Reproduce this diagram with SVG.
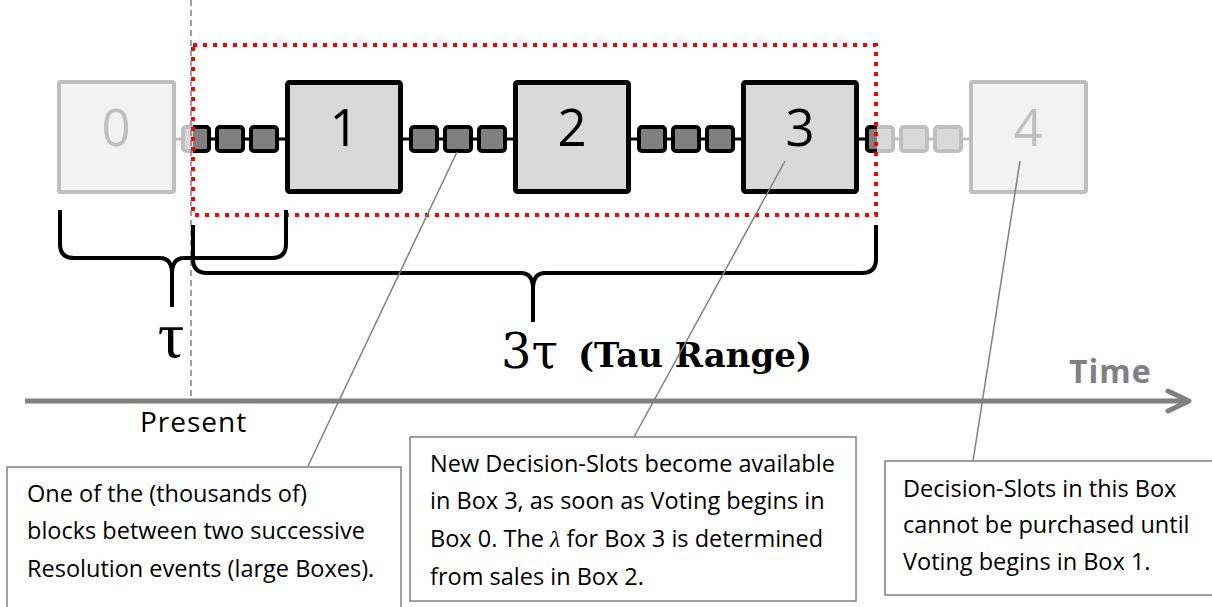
<svg xmlns="http://www.w3.org/2000/svg" xmlns:xlink="http://www.w3.org/1999/xlink" width="1212" height="607" viewBox="0 0 1212 607">
<style>
.big-dark{fill:#d9d9d9;stroke:#000;stroke-width:5}
.big-light{fill:#f2f2f2;stroke:#bfbfbf;stroke-width:4}
.num{font-family:"Open Sans","Noto Sans",sans-serif;font-size:51px;text-anchor:middle}
.seg-dark{fill:#808080;stroke:#000}
.seg-light{fill:#d9d9d9;stroke:#bfbfbf}
.leader{stroke:#808080;stroke-width:1.5;fill:none}
.callout{fill:#fff;stroke:#808080;stroke-width:1.5}
.ctext{font-family:"Open Sans","Noto Sans",sans-serif;font-size:23.5px;fill:#000}
.brace{fill:none;stroke:#000;stroke-width:4;stroke-linejoin:round}
</style>
<defs>
<g id="seg">
<line x1="118" y1="139" x2="228" y2="139" stroke-width="3"/>
<rect x="126" y="127" width="26" height="24" rx="3" stroke-width="4"/>
<rect x="160" y="127" width="26" height="24" rx="3" stroke-width="4"/>
<rect x="194" y="127" width="26" height="24" rx="3" stroke-width="4"/>
</g>
<clipPath id="inRange" clipPathUnits="userSpaceOnUse"><rect x="193" y="0" width="684" height="607"/></clipPath>
</defs>

<g id="connectors">
<use xlink:href="#seg" href="#seg" x="57" class="seg-light"/>
<g clip-path="url(#inRange)"><use xlink:href="#seg" href="#seg" x="57" class="seg-dark"/></g>
<use xlink:href="#seg" href="#seg" x="285" class="seg-dark"/>
<use xlink:href="#seg" href="#seg" x="513" class="seg-dark"/>
<use xlink:href="#seg" href="#seg" x="741" class="seg-light"/>
<g clip-path="url(#inRange)"><use xlink:href="#seg" href="#seg" x="741" class="seg-dark"/></g>
</g>

<g id="box0"><rect class="big-light" x="59" y="82" width="115" height="110" rx="2"/><text class="num" x="116" y="146" fill="#bfbfbf">0</text></g>
<g id="box1"><rect class="big-dark" x="287.5" y="82.5" width="113" height="109" rx="2"/><text class="num" x="344" y="146">1</text></g>
<g id="box2"><rect class="big-dark" x="515.5" y="82.5" width="113" height="109" rx="2"/><text class="num" x="572" y="146">2</text></g>
<g id="box3"><rect class="big-dark" x="743.5" y="82.5" width="113" height="109" rx="2"/><text class="num" x="800" y="146">3</text></g>
<g id="box4"><rect class="big-light" x="971" y="82" width="115" height="110" rx="2"/><text class="num" x="1028" y="146" fill="#bfbfbf">4</text></g>

<g id="tau-range">
<rect x="193" y="45" width="683" height="170" fill="none" stroke="#ff0000" stroke-width="4" stroke-dasharray="4 6"/>
</g>

<g id="present-line">
<line x1="191" y1="0" x2="191" y2="400" stroke="#808080" stroke-width="1.5" stroke-dasharray="6 4"/>
</g>

<g id="braces">
<path class="brace" d="M60,210 L60,244 Q60,258 74,258 L160,258 Q172,258 172,274 L172,307 M172,274 Q172,258 184,258 L272,258 Q286,258 286,244 L286,210"/>
<path class="brace" d="M193,225 L193,259 Q193,273 207,273 L521,273 Q533,273 533,289 L533,322 M533,289 Q533,273 545,273 L862,273 Q876,273 876,259 L876,225"/>
<text x="171" y="357" font-family="'Liberation Serif','DejaVu Serif',serif" font-size="66" text-anchor="middle">τ</text>
<text x="501" y="368" font-family="'DejaVu Serif','Liberation Serif',serif" font-size="48">3τ</text>
<text x="578" y="367" font-family="'DejaVu Serif','Liberation Serif',serif" font-size="34" font-weight="bold">(Tau Range)</text>
</g>

<g id="time-axis">
<line x1="25" y1="401" x2="1188" y2="401" stroke="#808080" stroke-width="5"/>
<polyline points="1168,391 1189,401 1168,411" fill="none" stroke="#808080" stroke-width="5" stroke-linecap="round" stroke-linejoin="round"/>
<text x="1069" y="383" font-family="'Open Sans','Noto Sans',sans-serif" font-size="32" font-weight="bold" fill="#808080" letter-spacing="1">Time</text>
<text x="140" y="432" font-family="'Open Sans','Noto Sans',sans-serif" font-size="28" fill="#000" letter-spacing="1">Present</text>
</g>

<g id="leaders">
<line class="leader" x1="457" y1="152" x2="308" y2="466"/>
<line class="leader" x1="785" y1="161" x2="634" y2="437"/>
<line class="leader" x1="1020" y1="161" x2="973" y2="461"/>
</g>

<g id="calloutA">
<rect class="callout" x="7" y="467" width="394" height="160"/>
<text class="ctext" x="27" y="502">One of the (thousands of)</text>
<text class="ctext" x="27" y="539">blocks between two successive</text>
<text class="ctext" x="27" y="577">Resolution events (large Boxes).</text>
</g>
<g id="calloutB">
<rect class="callout" x="410" y="437" width="446" height="164"/>
<text class="ctext" x="430" y="472">New Decision-Slots become available</text>
<text class="ctext" x="430" y="509">in Box 3, as soon as Voting begins in</text>
<text class="ctext" x="430" y="547">Box 0. The <tspan font-family="'Liberation Serif',serif" font-style="italic">λ</tspan> for Box 3 is determined</text>
<text class="ctext" x="430" y="585">from sales in Box 2.</text>
</g>
<g id="calloutC">
<rect class="callout" x="885" y="461" width="340" height="134"/>
<text class="ctext" x="903" y="497">Decision-Slots in this Box</text>
<text class="ctext" x="903" y="533">cannot be purchased until</text>
<text class="ctext" x="903" y="570">Voting begins in Box 1.</text>
</g>
</svg>
